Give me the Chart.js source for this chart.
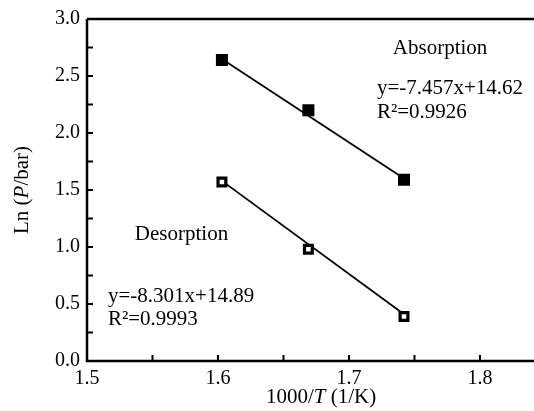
<!DOCTYPE html>
<html>
<head>
<meta charset="utf-8">
<script src="https://cdn.jsdelivr.net/npm/chart.js@4.4.1/dist/chart.umd.min.js"></script>
<style>
html,body{margin:0;padding:0;background:#fff;}
#wrap{width:534px;height:411px;position:relative;}
</style>
</head>
<body>
<div id="wrap"><canvas id="c" width="534" height="411"></canvas></div>
<script>
// ---- data ----
const invT = [1.603, 1.669, 1.742];           // 1000/T (1/K)
const absorption = [2.64, 2.20, 1.59];         // Ln(P/bar), filled squares
const desorption = [1.57, 0.98, 0.39];         // Ln(P/bar), open squares
const absFitX = [1.603, 1.742];
const absFitY = [2.65, 1.60];
const desFitX = [1.603, 1.742];
const desFitY = [1.58, 0.41];
const xTicks = [1.5, 1.6, 1.7, 1.8];
const yTicks = [0.0, 0.5, 1.0, 1.5, 2.0, 2.5, 3.0];
const xMinorTicks = [1.5, 1.55, 1.6, 1.65, 1.7, 1.75, 1.8];
const yMinorTicks = [0.25, 0.5, 0.75, 1.0, 1.25, 1.5, 1.75, 2.0, 2.25, 2.5, 2.75];
const annotations = [
  {text: 'Absorption', x: 1.7335, y: 2.74},
  {text: 'y=-7.457x+14.62', x: 1.7213, y: 2.39},
  {text: 'R\u00B2=0.9926', x: 1.7213, y: 2.18},
  {text: 'Desorption', x: 1.5365, y: 1.11},
  {text: 'y=-8.301x+14.89', x: 1.516, y: 0.57},
  {text: 'R\u00B2=0.9993', x: 1.516, y: 0.36}
];

const pts = (xs, ys) => xs.map((x, i) => ({x: x, y: ys[i]}));
const FONT = '"Liberation Serif", "Times New Roman", serif';

const framePlugin = {
  id: 'frame',
  afterDraw(chart) {
    const {ctx, chartArea: a, scales: {x, y}} = chart;
    const W = chart.width;
    ctx.save();
    ctx.strokeStyle = '#000';
    ctx.lineWidth = 2.5;
    ctx.beginPath();
    ctx.moveTo(a.left, a.top); ctx.lineTo(a.left, a.bottom); ctx.lineTo(W, a.bottom);
    ctx.moveTo(a.left, a.top); ctx.lineTo(W, a.top);
    ctx.stroke();
    ctx.lineWidth = 2;
    ctx.beginPath();
    xMinorTicks.forEach(v => { const px = x.getPixelForValue(v); ctx.moveTo(px, a.bottom); ctx.lineTo(px, a.bottom - 6); });
    yMinorTicks.forEach(v => { const py = y.getPixelForValue(v); ctx.moveTo(a.left, py); ctx.lineTo(a.left + 6, py); });
    ctx.stroke();

    ctx.fillStyle = '#000';
    ctx.textBaseline = 'middle';
    ctx.font = '21px ' + FONT;
    ctx.textAlign = 'left';
    annotations.forEach(t => ctx.fillText(t.text, x.getPixelForValue(t.x), y.getPixelForValue(t.y)));

    const drawMixed = (parts, cx, cy) => {
      let w = 0;
      parts.forEach(p => { ctx.font = (p.i ? 'italic ' : '') + '21px ' + FONT; w += ctx.measureText(p.t).width; });
      let cur = cx - w / 2;
      parts.forEach(p => { ctx.font = (p.i ? 'italic ' : '') + '21px ' + FONT; ctx.fillText(p.t, cur, cy); cur += ctx.measureText(p.t).width; });
    };
    ctx.textAlign = 'left';
    drawMixed([{t: '1000/', i: false}, {t: 'T', i: true}, {t: ' (1/K)', i: false}], 321, 397);
    ctx.save();
    ctx.translate(22, 190);
    ctx.rotate(-Math.PI / 2);
    drawMixed([{t: 'Ln (', i: false}, {t: 'P', i: true}, {t: '/bar)', i: false}], 0, 0);
    ctx.restore();
    ctx.restore();
  }
};

new Chart(document.getElementById('c'), {
  type: 'scatter',
  data: {
    datasets: [
      {label: 'Absorption', data: pts(invT, absorption), pointStyle: 'rect', pointRadius: 8.5,
       backgroundColor: '#000', borderColor: '#000', borderWidth: 0, order: 0},
      {label: 'Desorption', data: pts(invT, desorption), pointStyle: 'rect', pointRadius: 5.5,
       backgroundColor: '#fff', borderColor: '#000', borderWidth: 3.2, order: 0},
      {label: 'Absorption fit', data: pts(absFitX, absFitY), showLine: true, pointRadius: 0,
       borderColor: '#000', borderWidth: 1.8, order: 1},
      {label: 'Desorption fit', data: pts(desFitX, desFitY), showLine: true, pointRadius: 0,
       borderColor: '#000', borderWidth: 1.8, order: 1}
    ]
  },
  options: {
    responsive: false,
    animation: false,
    devicePixelRatio: 1,
    layout: {padding: {top: 16, right: 0, left: 0, bottom: 0}},
    plugins: {legend: {display: false}, tooltip: {enabled: false}},
    scales: {
      x: {
        type: 'linear', min: 1.5, max: 1.8346,
        grid: {display: false, drawTicks: false},
        border: {display: false},
        afterBuildTicks: s => { s.ticks = xTicks.map(v => ({value: v})); },
        afterFit: s => { s.height = 50; },
        ticks: {font: {family: FONT, size: 20}, color: '#000', padding: 6,
                maxRotation: 0, callback: v => v.toFixed(1)}
      },
      y: {
        type: 'linear', min: 0, max: 3,
        grid: {display: false, drawTicks: false},
        border: {display: false},
        afterBuildTicks: s => { s.ticks = yTicks.map(v => ({value: v})); },
        afterFit: s => { s.width = 87; },
        ticks: {font: {family: FONT, size: 20}, color: '#000', padding: 7,
                callback: v => v.toFixed(1)}
      }
    }
  },
  plugins: [framePlugin]
});
</script>
</body>
</html>
